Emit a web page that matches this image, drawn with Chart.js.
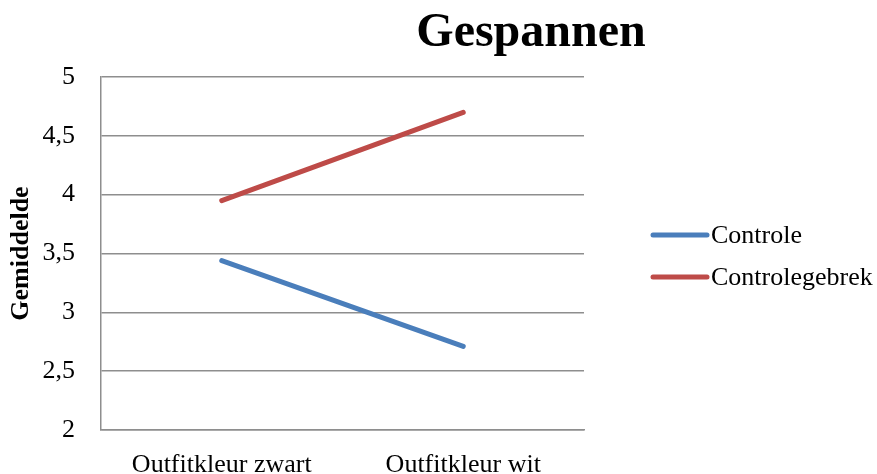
<!DOCTYPE html>
<html>
<head>
<meta charset="utf-8">
<script src="https://cdn.jsdelivr.net/npm/chart.js@4"></script>
<style>
  html, body { margin: 0; padding: 0; background: #fff; }
  #wrap { width: 877px; height: 474px; }
</style>
</head>
<body>
<div id="wrap"><canvas id="chart"></canvas></div>
<script>
// data
let categories = ['Outfitkleur zwart', 'Outfitkleur wit']
let controle = [3.44, 2.71]
let controlegebrek = [3.95, 4.70]
let seriesNames = ['Controle', 'Controlegebrek']
let yMin = 2
let yMax = 5
let yStep = 0.5
let chartTitle = 'Gespannen'
let yTitle = 'Gemiddelde'

const serif = "'Liberation Serif', 'Times New Roman', serif"
const gridColor = '#8e8e8e'

// title and legend drawn by hand, Excel style
const decorations = {
    id: 'decorations',
    afterDraw(chart) {
        const ctx = chart.ctx
        ctx.save()
        ctx.fillStyle = '#000'
        ctx.font = 'bold 48px ' + serif
        ctx.textAlign = 'center'
        ctx.textBaseline = 'alphabetic'
        ctx.fillText(chartTitle, 531, 46)

        // legend
        ctx.font = '26px ' + serif
        ctx.textAlign = 'left'
        ctx.textBaseline = 'middle'
        const rows = [235, 277]
        chart.data.datasets.forEach((ds, i) => {
            const y = rows[i]
            ctx.strokeStyle = ds.borderColor
            ctx.lineWidth = 5
            ctx.lineCap = 'round'
            ctx.beginPath()
            ctx.moveTo(653, y)
            ctx.lineTo(707, y)
            ctx.stroke()
            ctx.fillStyle = '#000'
            ctx.fillText(ds.label, 711, y + 1)
        })
        ctx.restore()
    }
}

const ctx = document.getElementById('chart').getContext('2d')
const lineChart = new Chart(ctx, {
    type: 'line',
    data: {
        labels: categories,
        datasets: [{
            label: seriesNames[0],
            data: controle,
            borderColor: '#4a7ebb',
            backgroundColor: '#4a7ebb',
            borderWidth: 5,
            borderCapStyle: 'round',
            pointRadius: 0,
            tension: 0
        }, {
            label: seriesNames[1],
            data: controlegebrek,
            borderColor: '#be4b48',
            backgroundColor: '#be4b48',
            borderWidth: 5,
            borderCapStyle: 'round',
            pointRadius: 0,
            tension: 0
        }]
    },
    options: {
        responsive: true,
        maintainAspectRatio: false,
        animation: false,
        layout: {
            padding: { top: 77, right: 293, left: 0, bottom: 0 }
        },
        plugins: {
            legend: { display: false },
            title: { display: false },
            tooltip: { enabled: false }
        },
        scales: {
            x: {
                offset: true,
                grid: { display: false, drawTicks: false },
                border: { display: true, color: gridColor, width: 1.5 },
                ticks: {
                    color: '#000',
                    padding: 20,
                    maxRotation: 0,
                    font: { family: serif, size: 26 }
                },
                afterFit(scale) { scale.height = 44 }
            },
            y: {
                min: yMin,
                max: yMax,
                grid: { color: gridColor, lineWidth: 1.5, drawTicks: false },
                border: { display: true, color: gridColor, width: 1.5 },
                ticks: {
                    stepSize: yStep,
                    color: '#000',
                    padding: 26,
                    font: { family: serif, size: 26 },
                    callback: (v) => String(v).replace('.', ',')
                },
                title: {
                    display: true,
                    text: yTitle,
                    color: '#000',
                    padding: { top: 6, bottom: 0 },
                    font: { family: serif, size: 26, weight: 'bold' }
                },
                afterFit(scale) { scale.width = 101 }
            }
        }
    },
    plugins: [decorations]
})
</script>
</body>
</html>
